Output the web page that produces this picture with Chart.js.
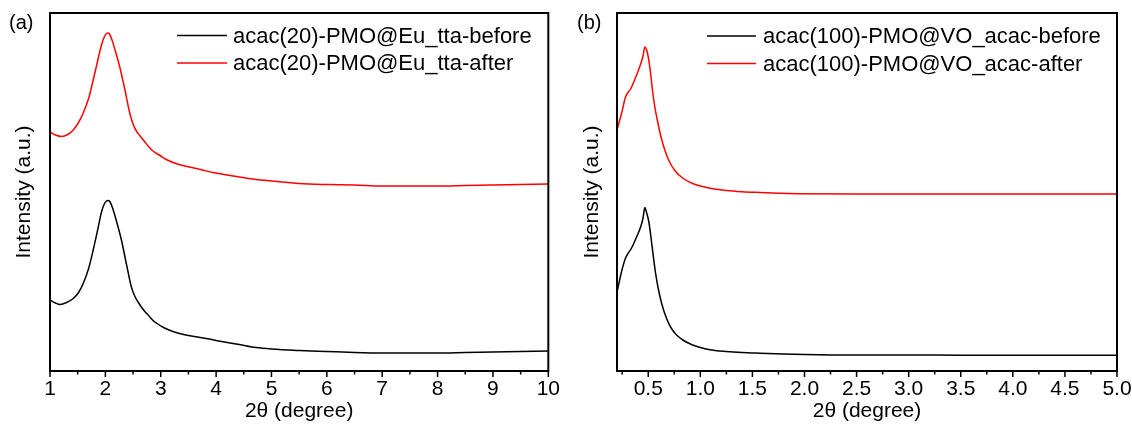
<!DOCTYPE html>
<html><head><meta charset="utf-8">
<script src="https://cdn.jsdelivr.net/npm/chart.js@4"></script>
<style>
html,body{margin:0;padding:0;background:#fff;overflow:hidden;}
#wrap{position:relative;width:1132px;height:427px;overflow:hidden;}
canvas{position:absolute;top:0;}
</style></head><body>
<div id="wrap">
<canvas id="ca" width="566" height="427" style="left:0"></canvas>
<canvas id="cb" width="600" height="427" style="left:566px"></canvas>
</div>
<script>
// ---------- data (a) ----------
const aAfterX  = [1.0,1.1,1.21,1.32,1.42,1.51,1.60,1.70,1.78,1.86,1.93,1.98,2.02,2.05,2.08,2.12,2.18,2.26,2.35,2.44,2.50,2.56,2.62,2.70,2.78,2.86,3.0,3.10,3.3,3.52,3.75,3.94,4.2,4.42,4.72,5.0,5.5,6.0,6.5,7.0,7.5,8.0,8.5,9.0,9.5,10.0];
const aAfterY  = [239,236,234.5,236.5,241,248,258,273,291,310,326,334,337.5,338,336.5,331,320,304,282,258,247,240,235.5,230,224.5,220,215,211.5,207,204,201,198.5,196,194,191.5,190,187.5,186.5,186,185,185,185,185.5,186,186.5,187];
const aBeforeX = [1.0,1.1,1.18,1.3,1.42,1.51,1.60,1.70,1.78,1.86,1.93,1.98,2.02,2.05,2.08,2.13,2.2,2.29,2.38,2.47,2.53,2.59,2.65,2.72,2.78,2.86,2.92,3.05,3.22,3.5,3.82,4.1,4.42,4.72,5.0,5.5,6.0,6.5,7.0,7.5,8.0,8.5,9.0,9.5,10.0];
const aBeforeY = [71,68,66.5,68.5,72.5,78,87.5,103,121,141,159,167,170,170.5,169.5,163,150,131,107,84,75,69,64,59,55.5,50.5,48,43.5,39.5,35.5,32.5,29.5,26.5,23.5,22,20.5,19.5,18.5,18,18,18,18.5,19,19.5,20];
const aMajor = [1,2,3,4,5,6,7,8,9,10];
const aMinor = [1.5,2.5,3.5,4.5,5.5,6.5,7.5,8.5,9.5];
const aLabels = ['1','2','3','4','5','6','7','8','9','10'];
// ---------- data (b) ----------
const bAfterX  = [0.20,0.244,0.282,0.333,0.388,0.429,0.45,0.467,0.485,0.50,0.52,0.537,0.56,0.589,0.62,0.659,0.70,0.755,0.83,0.915,1.0,1.107,1.25,1.4,1.57,1.75,1.95,2.5,3.0,3.5,4.0,4.5,5.0];
const bAfterY  = [241,257.7,274,282.5,296,307.5,315,324,321,314,300,284,266,250,235,221,210,200.5,193,188,185,182.5,180.5,179.3,178.5,177.8,177.3,177,177,177,177,177,177];
const bBeforeX = [0.205,0.244,0.282,0.34,0.388,0.43,0.45,0.467,0.485,0.506,0.527,0.547,0.57,0.595,0.63,0.676,0.72,0.772,0.84,0.915,1.0,1.107,1.25,1.4,1.57,1.8,2.0,2.5,3.0,3.5,4.0,4.5,5.0];
const bBeforeY = [81,99.5,113,123,134,145,153,163.5,158,149,133,116,98,83,67,52.5,43,36,30.5,26.5,23.5,21,19.5,18.5,17.8,17,16.5,16,16,15.8,15.8,15.8,15.8];
const bMajor = [0.5,1.0,1.5,2.0,2.5,3.0,3.5,4.0,4.5,5.0];
const bMinor = [0.25,0.75,1.25,1.75,2.25,2.75,3.25,3.75,4.25,4.75];
const bLabels = ['0.5','1.0','1.5','2.0','2.5','3.0','3.5','4.0','4.5','5.0'];

const FONT = '"Liberation Sans", Arial, Helvetica, sans-serif';
const FS = 21;
const LEG_FS = 22;

function decor(cfg){
  return { id:'decor', afterDraw(chart){
    const c = chart.ctx, a = chart.chartArea, xs = chart.scales.x;
    c.save();
    c.strokeStyle = '#000'; c.lineWidth = 2;
    c.strokeRect(a.left, a.top, a.right - a.left, a.bottom - a.top);
    c.lineWidth = 1.5;
    c.beginPath();
    cfg.major.forEach(v => { const p = xs.getPixelForValue(v); c.moveTo(p, a.bottom); c.lineTo(p, a.bottom + 6); });
    cfg.minor.forEach(v => { const p = xs.getPixelForValue(v); c.moveTo(p, a.bottom); c.lineTo(p, a.bottom + 3.5); });
    c.stroke();
    c.font = LEG_FS + 'px ' + FONT; c.textBaseline = 'middle'; c.textAlign = 'left'; c.fillStyle = '#000';
    chart.data.datasets.forEach((d, i) => {
      const y = cfg.legY + i * cfg.legDy;
      c.strokeStyle = d.borderColor; c.lineWidth = 1.5;
      c.beginPath(); c.moveTo(cfg.legX0, y); c.lineTo(cfg.legX1, y); c.stroke();
      c.fillText(d.label, cfg.legTx, y + 1);
    });
    c.font = '20px ' + FONT;
    c.fillStyle = '#000';
    c.fillText(cfg.panel, cfg.panelX, cfg.panelY);
    c.restore();
  }};
}

function makeChart(id, cfg){
  const ds = cfg.series.map(s => ({
    label: s.label,
    data: s.x.map((v, i) => ({x: v, y: s.y[i]})),
    borderColor: s.color, borderWidth: 1.5, pointRadius: 0,
    cubicInterpolationMode: 'monotone', fill: false
  }));
  const ticksAll = cfg.major.concat(cfg.minor).sort((p, q) => p - q);
  return new Chart(document.getElementById(id), {
    type: 'line',
    data: {datasets: ds},
    options: {
      responsive: false, animation: false, events: [],
      layout: {padding: {left: 0, top: 13, right: cfg.padRight, bottom: 0}},
      plugins: {legend: {display: false}, tooltip: {enabled: false}},
      scales: {
        x: {
          type: 'linear', min: cfg.xmin, max: cfg.xmax,
          grid: {display: false, drawTicks: false}, border: {display: false},
          afterBuildTicks: s => { s.ticks = ticksAll.map(v => ({value: v})); },
          afterFit: s => { s.height = 56; },
          ticks: {
            autoSkip: false, maxRotation: 0, minRotation: 0, padding: 6, color: '#000',
            font: {size: FS, family: FONT},
            callback: v => { const k = cfg.major.findIndex(m => Math.abs(m - v) < 1e-9); return k >= 0 ? cfg.labels[k] : ''; }
          },
          title: {display: true, text: '2θ (degree)', color: '#000', font: {size: FS, family: FONT}, padding: {top: 3, bottom: 3}}
        },
        y: {
          min: 0, max: 358,
          grid: {display: false, drawTicks: false}, border: {display: false},
          ticks: {display: false},
          afterFit: s => { s.width = cfg.yWidth; },
          title: {display: true, text: 'Intensity (a.u.)', color: '#000', font: {size: FS, family: FONT}, padding: {top: cfg.yTitlePad, bottom: cfg.yTitlePad}}
        }
      }
    },
    plugins: [decor(cfg)]
  });
}

makeChart('ca', {
  xmin: 1, xmax: 10, major: aMajor, minor: aMinor, labels: aLabels,
  padRight: 16, yWidth: 50, yTitlePad: 11.4,
  legY: 35.5, legDy: 27.5, legX0: 177, legX1: 227, legTx: 233,
  panel: '(a)', panelX: 9, panelY: 23,
  series: [
    {label: 'acac(20)-PMO@Eu_tta-before', x: aBeforeX, y: aBeforeY, color: '#000000'},
    {label: 'acac(20)-PMO@Eu_tta-after', x: aAfterX, y: aAfterY, color: '#ff0000'}
  ]
});
makeChart('cb', {
  xmin: 0.2, xmax: 5.0, major: bMajor, minor: bMinor, labels: bLabels,
  padRight: 49, yWidth: 51, yTitlePad: 13.4,
  legY: 36, legDy: 27.5, legX0: 141, legX1: 190, legTx: 197,
  panel: '(b)', panelX: 11, panelY: 23,
  series: [
    {label: 'acac(100)-PMO@VO_acac-before', x: bBeforeX, y: bBeforeY, color: '#000000'},
    {label: 'acac(100)-PMO@VO_acac-after', x: bAfterX, y: bAfterY, color: '#ff0000'}
  ]
});
</script>
</body></html>
